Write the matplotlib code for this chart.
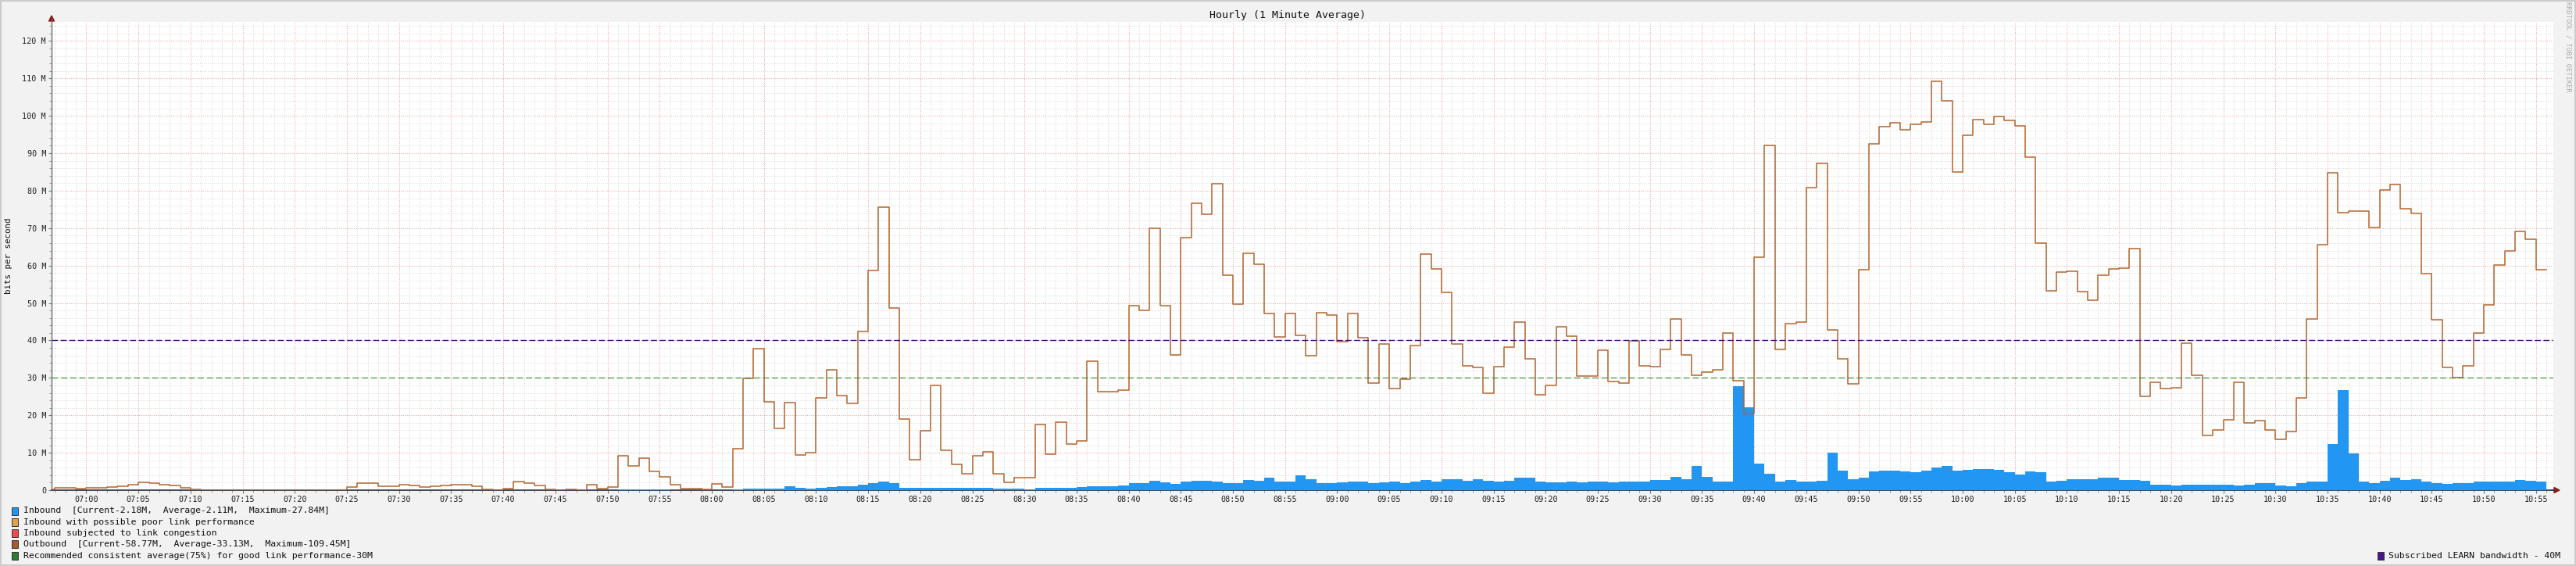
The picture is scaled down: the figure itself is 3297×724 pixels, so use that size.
import numpy as np
import matplotlib
matplotlib.use("Agg")
import matplotlib.pyplot as plt
from matplotlib.patches import Rectangle, Polygon
from matplotlib.lines import Line2D
from matplotlib.ticker import MultipleLocator, FixedLocator, FuncFormatter

plt.rcParams['font.family'] = ['DejaVu Sans Mono']

# one value per minute, 06:56 .. 10:55 (Mbit/s)
outbound_0656 = [0.3, 0.65, 0.65, 0.4]
outbound_07 = [
    0.65, 0.65, 0.9, 1.1, 1.5, 2.1, 1.9, 1.5, 1.3, 0.65,
    0.25, 0, 0, 0, 0, 0, 0, 0, 0, 0,
    0, 0, 0, 0, 0, 0.9, 1.95, 1.95, 1.05, 1.05,
    1.5, 1.3, 0.9, 1.1, 1.3, 1.5, 1.5, 1.05, 0.25, 0,
    0.4, 2.25, 1.9, 1.3, 0.25, 0, 0.25, 0, 1.45, 0.4,
    0.8, 9.15, 6.5, 8.5, 5.0, 3.55, 1.45, 0.4, 0.4, 0.15]
outbound_08 = [
    1.7, 0.8, 11.0, 29.8, 37.9, 23.7, 16.45, 23.3, 9.4, 9.95,
    24.55, 32.25, 25.2, 23.1, 42.5, 58.75, 75.6, 48.7, 19.0, 8.2,
    15.8, 27.9, 10.7, 6.9, 4.4, 9.25, 10.2, 4.4, 2.1, 3.4,
    3.4, 17.5, 9.6, 18.15, 12.3, 13.1, 34.5, 26.4, 26.25, 26.65,
    49.2, 48.1, 69.9, 49.35, 36.2, 67.5, 76.6, 73.75, 81.85, 57.45,
    49.75, 63.3, 60.4, 47.2, 41.0, 47.2, 41.4, 35.9, 47.5, 46.7]
outbound_09 = [
    39.6, 47.1, 40.8, 28.6, 39.1, 27.1, 29.6, 38.7, 63.1, 59.2,
    52.9, 39.0, 33.2, 32.7, 25.85, 33.1, 38.3, 45.0, 35.0, 25.45,
    27.9, 43.7, 41.2, 30.4, 30.4, 37.3, 29.0, 28.6, 39.8, 33.3,
    32.9, 37.5, 45.8, 36.2, 30.6, 31.5, 32.25, 41.9, 29.3, 20.5,
    62.3, 92.1, 37.5, 44.4, 44.8, 80.8, 87.3, 42.9, 35.0, 28.4,
    58.9, 92.6, 97.1, 98.1, 96.3, 97.7, 98.3, 109.3, 104.1, 85.0]
outbound_10 = [
    94.9, 98.9, 97.7, 99.8, 98.7, 97.4, 89.0, 66.0, 53.3, 58.2,
    58.5, 53.1, 50.8, 57.5, 59.1, 59.4, 64.6, 25.0, 28.9, 27.1,
    27.3, 39.3, 30.6, 14.6, 16.0, 18.9, 28.9, 17.9, 18.6, 16.0,
    13.5, 15.6, 24.7, 45.8, 65.6, 84.7, 74.1, 74.6, 74.6, 70.2,
    80.1, 81.6, 75.1, 74.0, 57.9, 45.6, 32.7, 30.1, 33.3, 41.9,
    49.6, 60.2, 63.9, 69.1, 67.1, 58.8]

inbound_0656 = [0, 0, 0, 0]
inbound_07 = [
    0, 0, 0, 0, 0, 0, 0, 0, 0, 0,
    0.2, 0, 0, 0, 0, 0, 0, 0, 0, 0,
    0, 0, 0, 0, 0, 0, 0, 0, 0, 0,
    0, 0, 0, 0, 0, 0, 0, 0, 0, 0,
    0, 0, 0, 0, 0, 0, 0, 0, 0, 0,
    0.05, 0.25, 0.25, 0.25, 0.25, 0.25, 0.05, 0.05, 0.05, 0.05]
inbound_08 = [
    0.05, 0.05, 0.25, 0.4, 0.4, 0.4, 0.5, 1.1, 0.55, 0.4,
    0.55, 0.8, 1.0, 1.1, 1.4, 1.95, 2.2, 1.8, 0.7, 0.7,
    0.7, 0.7, 0.7, 0.55, 0.7, 0.7, 0.7, 0.5, 0.5, 0.5,
    0.3, 0.7, 0.55, 0.7, 0.7, 0.9, 1.1, 1.1, 1.1, 1.3,
    1.95, 1.95, 2.6, 2.0, 1.6, 2.35, 2.6, 2.6, 2.35, 1.95,
    1.8, 2.75, 2.6, 3.4, 2.2, 2.2, 4.05, 2.9, 1.85, 1.85]
inbound_09 = [
    2.0, 2.35, 2.35, 1.85, 2.0, 2.2, 1.85, 2.35, 2.75, 2.35,
    3.0, 2.85, 2.6, 3.0, 2.6, 2.35, 2.6, 3.25, 3.25, 2.35,
    2.0, 2.0, 2.2, 2.0, 2.35, 2.35, 2.0, 2.2, 2.35, 2.2,
    2.75, 2.75, 3.65, 3.0, 6.55, 3.65, 2.2, 2.2, 27.8, 22.1,
    7.0, 4.45, 2.35, 2.75, 2.35, 2.35, 2.6, 10.05, 5.25, 3.0,
    3.25, 5.1, 5.25, 5.25, 5.1, 4.85, 5.25, 6.15, 6.55, 5.25]
inbound_10 = [
    5.5, 5.65, 5.65, 5.5, 4.85, 4.2, 5.1, 4.7, 2.35, 2.6,
    3.0, 3.0, 3.0, 3.25, 3.4, 2.75, 2.75, 2.6, 1.55, 1.55,
    1.3, 1.55, 1.55, 1.55, 1.55, 1.55, 1.3, 1.55, 1.95, 1.8,
    1.3, 1.1, 1.8, 2.2, 2.2, 12.4, 26.7, 9.9, 2.2, 1.95,
    2.6, 3.25, 2.75, 3.0, 2.35, 1.95, 1.6, 1.95, 1.95, 2.2,
    2.35, 2.35, 2.35, 2.75, 2.6, 2.2]

first_minute = 6 * 60 + 56      # 06:56
recommended = 30
subscribed = 40

legend_left = [
    ("Inbound  [Current-2.18M,  Average-2.11M,  Maximum-27.84M]", '#2196f3'),
    ("Inbound with possible poor link performance", '#e0a24e'),
    ("Inbound subjected to link congestion", '#ec4c4c'),
    ("Outbound  [Current-58.77M,  Average-33.13M,  Maximum-109.45M]", '#a85a2a'),
    ("Recommended consistent average(75%) for good link performance-30M", '#2e7d32'),
]
legend_right = ("Subscribed LEARN bandwidth - 40M", '#4a148c')

outbound = np.array(outbound_0656 + outbound_07 + outbound_08 + outbound_09 + outbound_10)
inbound = np.array(inbound_0656 + inbound_07 + inbound_08 + inbound_09 + inbound_10)

W, H = 3297, 724
fig = plt.figure(figsize=(W / 100, H / 100), dpi=100, facecolor='#f2f2f2')
ax = fig.add_axes([66 / W, 1 - 627 / H, (3268 - 66) / W, (627 - 28) / H])
ax.set_facecolor('white')

xs = first_minute + np.arange(len(outbound) + 1)
ax.fill_between(xs, np.append(inbound, inbound[-1]), step='post',
                color='#2196f3', lw=0, zorder=3)
ax.step(xs, np.append(outbound, outbound[-1]), where='post',
        color='#b4652f', lw=1.1, zorder=4)

ax.axhline(subscribed, color='#3d0a78', lw=1.0, ls=(0, (5.5, 2.5)), zorder=5)
ax.axhline(recommended, color='#2a8a2a', lw=0.8, ls=(0, (7, 3.5)), zorder=5)

ax.set_xlim(first_minute + 40 / 60, first_minute + 240 + 40 / 60)
ax.set_ylim(0, 125.1)

ax.xaxis.set_major_locator(FixedLocator(np.arange(420, 660, 5)))
ax.xaxis.set_minor_locator(MultipleLocator(1))
ax.yaxis.set_major_locator(MultipleLocator(10))
ax.yaxis.set_minor_locator(MultipleLocator(2))
ax.xaxis.set_major_formatter(FuncFormatter(lambda v, p: "%02d:%02d" % (int(v) // 60, int(v) % 60)))
ax.yaxis.set_major_formatter(FuncFormatter(lambda v, p: "0" if v == 0 else "%d M" % v))

ax.set_axisbelow(True)
ax.grid(which='minor', color='#dadada', ls=(0, (1.2, 1.6)), lw=0.65, zorder=0)
ax.grid(which='major', color='#f4a6a6', ls=(0, (1.2, 1.6)), lw=0.7, zorder=1)

ax.tick_params(which='major', length=3, width=0.8, color='#777777',
               labelsize=7.3, pad=2, labelcolor='#222222')
ax.tick_params(which='minor', length=2, width=0.7, color='#999999')

for s in ['top', 'right']:
    ax.spines[s].set_visible(False)
ax.spines['left'].set_color('#666666')
ax.spines['bottom'].set_color('#333b4a')
ax.spines['bottom'].set_linewidth(1.3)

# axis arrows
fig.add_artist(Line2D([66 / W, 66 / W], [1 - 627 / H, 1 - 24 / H], color='#666666', lw=0.9))
fig.add_artist(Polygon([[62.5 / W, 1 - 27 / H], [69.5 / W, 1 - 27 / H], [66 / W, 1 - 20 / H]],
                       closed=True, color='#8b1a1a'))
fig.add_artist(Line2D([3266 / W, 3270 / W], [1 - 627 / H, 1 - 627 / H], color='#333b4a', lw=1.3))
fig.add_artist(Polygon([[3269 / W, 1 - 623.5 / H], [3269 / W, 1 - 630.5 / H], [3276 / W, 1 - 627 / H]],
                       closed=True, color='#8b1a1a'))

fig.text(0.5, 1 - 19 / H, "Hourly (1 Minute Average)", ha='center', va='center',
         fontsize=9.5, color='#111111')
fig.text(11 / W, 1 - 327 / H, "bits per second", rotation=90, ha='center', va='center',
         fontsize=7.8, color='#111111')
fig.text(3287 / W, 1 - 60 / H, "RRDTOOL / TOBI OETIKER", rotation=270, ha='center',
         va='center', fontsize=6.2, color='#aaaaaa')

row_y = [653.5, 667.8, 682.0, 696.3, 710.5]
for (label, col), y in zip(legend_left, row_y):
    fig.add_artist(Rectangle((15 / W, 1 - (y + 5) / H), 8 / W, 10 / H,
                             facecolor=col, edgecolor='#333333', lw=0.7))
    fig.text(30 / W, 1 - y / H, label, ha='left', va='center', fontsize=8.25, color='#111111')

label, col = legend_right
fig.add_artist(Rectangle((3043 / W, 1 - (710.5 + 5) / H), 8 / W, 10 / H,
                         facecolor=col, edgecolor='#333333', lw=0.7))
fig.text(3057 / W, 1 - 710.5 / H, label, ha='left', va='center', fontsize=8.25, color='#111111')

# frame
fig.add_artist(Rectangle((0, 0), 1, 1, transform=fig.transFigure, fill=False,
                         edgecolor='#cccccc', lw=3))

fig.savefig("out.png", dpi=100, facecolor=fig.get_facecolor())
